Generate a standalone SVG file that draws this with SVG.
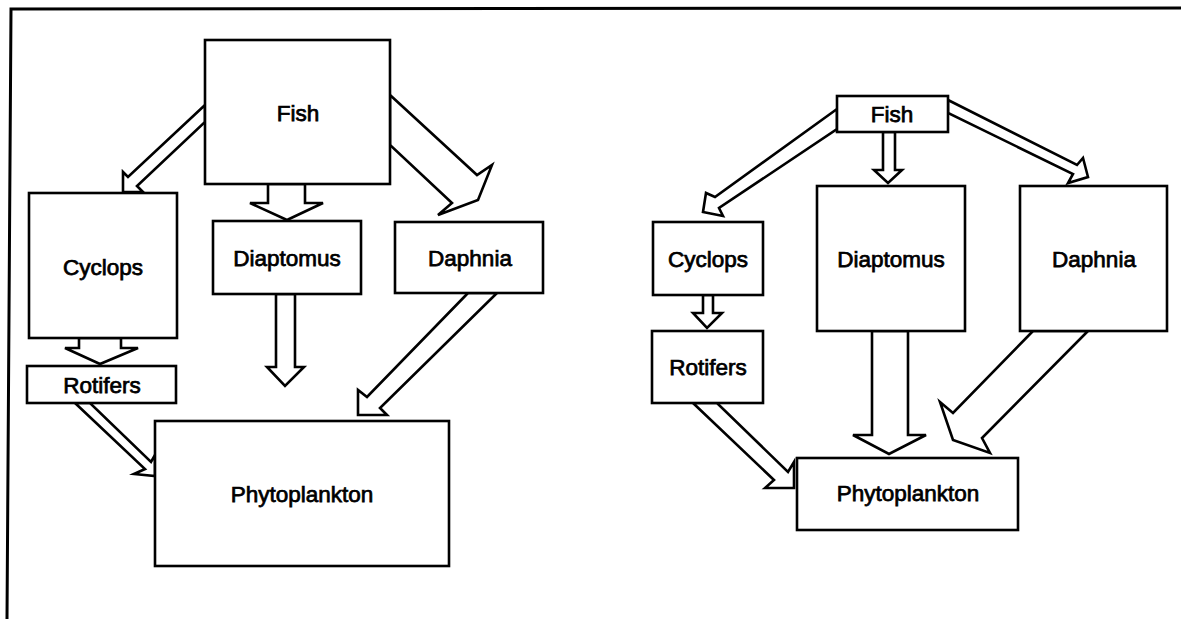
<svg xmlns="http://www.w3.org/2000/svg" width="1181" height="619" viewBox="0 0 1181 619">
<style>
.box{fill:#fff;stroke:#000;stroke-width:2.6}
.arr{fill:#fff;stroke:#000;stroke-width:2.6;stroke-linejoin:miter}
.lbl{font-family:"Liberation Sans",Arial,sans-serif;font-size:22.5px;fill:#000;stroke:#000;stroke-width:0.75;text-anchor:middle}
.frame{fill:none;stroke:#000;stroke-width:3}
</style>
<rect width="1181" height="619" fill="#fff"/>
<polyline class="frame" points="7,619 11,9 1181,8"/>

<g id="connectors">
  <!-- left diagram -->
  <polygon class="arr" points="205,105 128,177 123,172 123,192 143,192 137,186 205,122"/>
  <polygon class="arr" points="268,184 268,203 250,203 287,220 323,203 305,203 305,184"/>
  <polygon class="arr" points="390,95 477,175 492,165 478,200 438,215 452,203 390,145"/>
  <polygon class="arr" points="276,294 276,367 267,367 285,386 304,367 295,367 295,294"/>
  <polygon class="arr" points="468,293 367,397 358,390 358,415 387,415 380,408 497,293"/>
  <polygon class="arr" points="79,338 79,348 65,348 100,364 138,348 121,348 121,338"/>
  <polygon class="arr" points="75,403 145,469 134,474 155,476 155,455 151,462 90,403"/>
  <!-- right diagram -->
  <polygon class="arr" points="837,109 715,197 706,193 703,212 723,216 719,208 837,129"/>
  <polygon class="arr" points="883,132 883,170 874,170 888,183 902,170 895,170 895,132"/>
  <polygon class="arr" points="948,100 1077,165 1083,158 1088,177 1068,183 1073,174 948,113"/>
  <polygon class="arr" points="703,295 703,313 693,313 707,328 722,313 713,313 713,295"/>
  <polygon class="arr" points="872,331 872,435 853,435 889,454 926,435 908,435 908,331"/>
  <polygon class="arr" points="1033,331 953,413 940,402 953,440 990,453 982,438 1088,331"/>
  <polygon class="arr" points="693,403 774,480 765,488 794,488 794,462 788,472 717,403"/>
</g>

<g id="L-fish"><rect class="box" x="205" y="40" width="185" height="144"/><text class="lbl" x="298" y="121">Fish</text></g>
<g id="L-cyclops"><rect class="box" x="29" y="193" width="148" height="145"/><text class="lbl" x="103" y="275">Cyclops</text></g>
<g id="L-diaptomus"><rect class="box" x="213" y="221" width="148" height="73"/><text class="lbl" x="287" y="266">Diaptomus</text></g>
<g id="L-daphnia"><rect class="box" x="395" y="222" width="148" height="71"/><text class="lbl" x="470" y="266">Daphnia</text></g>
<g id="L-rotifers"><rect class="box" x="27" y="366" width="149" height="37"/><text class="lbl" x="102" y="393">Rotifers</text></g>
<g id="L-phytoplankton"><rect class="box" x="155" y="421" width="294" height="145"/><text class="lbl" x="302" y="502">Phytoplankton</text></g>

<g id="R-fish"><rect class="box" x="837" y="96" width="111" height="36"/><text class="lbl" x="892" y="122">Fish</text></g>
<g id="R-cyclops"><rect class="box" x="653" y="222" width="110" height="73"/><text class="lbl" x="708" y="267">Cyclops</text></g>
<g id="R-diaptomus"><rect class="box" x="817" y="186" width="148" height="145"/><text class="lbl" x="891" y="267">Diaptomus</text></g>
<g id="R-daphnia"><rect class="box" x="1020" y="186" width="147" height="145"/><text class="lbl" x="1094" y="267">Daphnia</text></g>
<g id="R-rotifers"><rect class="box" x="652" y="331" width="111" height="72"/><text class="lbl" x="708" y="375">Rotifers</text></g>
<g id="R-phytoplankton"><rect class="box" x="797" y="458" width="221" height="72"/><text class="lbl" x="908" y="501">Phytoplankton</text></g>
</svg>
